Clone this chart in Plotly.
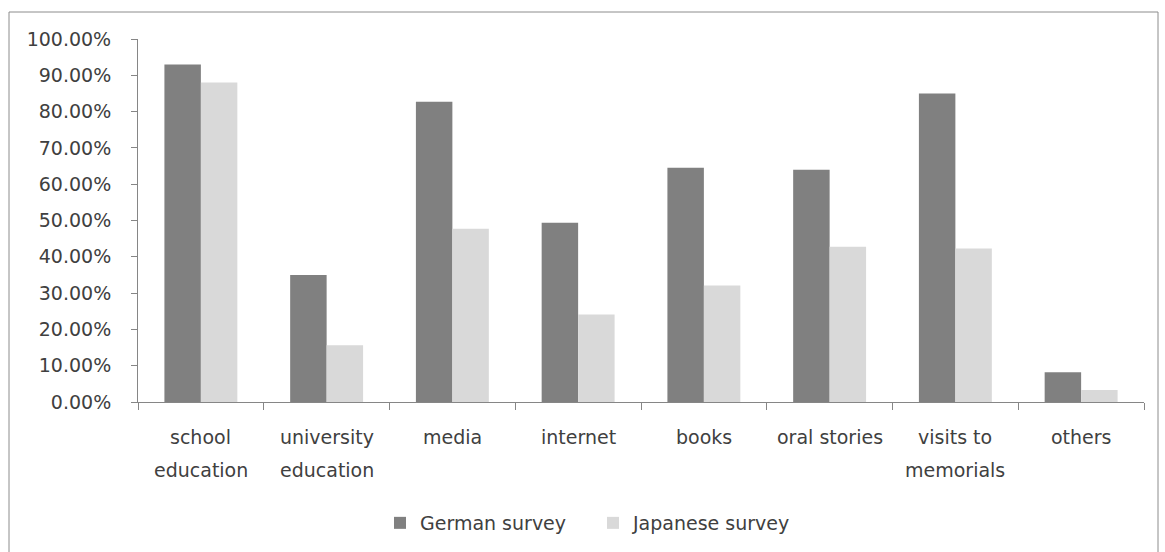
import plotly.graph_objects as go

# Sources of historical knowledge, share of respondents
categories = ["school education", "university education", "media", "internet",
              "books", "oral stories", "visits to memorials", "others"]
label_lines = [["school", "education"], ["university", "education"], ["media"],
               ["internet"], ["books"], ["oral stories"], ["visits to", "memorials"],
               ["others"]]
german = [0.93, 0.35, 0.827, 0.494, 0.645, 0.64, 0.85, 0.082]
japanese = [0.88, 0.156, 0.477, 0.241, 0.321, 0.428, 0.423, 0.033]
y_ticks = [i / 10 for i in range(11)]

FONT = "DejaVu Sans"
TEXT = "#404040"
AXIS = "#868686"
FS = 19

fig = go.Figure()
fig.add_trace(go.Bar(x=categories, y=german, name="German survey",
                     marker=dict(color="#808080", line=dict(width=0))))
fig.add_trace(go.Bar(x=categories, y=japanese, name="Japanese survey",
                     marker=dict(color="#d9d9d9", line=dict(width=0))))

# two-line category labels drawn under the axis
annotations = []
for cat, lines in zip(categories, label_lines):
    for j, line in enumerate(lines):
        annotations.append(dict(x=cat, xref="x", y=0, yref="paper",
                                yanchor="middle", xanchor="center",
                                yshift=-35 - 33 * j, text=line, showarrow=False,
                                font=dict(family=FONT, size=FS, color=TEXT)))

L, R, T, B = 138, 21, 39, 150
W, H = 1165, 552
pw, ph = W - L - R, H - T - B

fig.update_layout(
    width=W, height=H,
    margin=dict(l=L, r=R, t=T, b=B),
    paper_bgcolor="white", plot_bgcolor="white",
    barmode="group", bargap=0.42, bargroupgap=0,
    font=dict(family=FONT, size=FS, color=TEXT),
    showlegend=True,
    legend=dict(orientation="h", xref="container", yref="container",
                x=(400 - 20) / W, xanchor="left", y=1 - 523 / H, yanchor="middle",
                entrywidth=168, entrywidthmode="pixels",
                font=dict(family=FONT, size=FS, color=TEXT),
                itemclick=False, traceorder="normal"),
    annotations=annotations,
    shapes=[dict(type="rect", xref="paper", yref="paper",
                 x0=(9 - L) / pw, x1=(1158 - L) / pw,
                 y0=(H - B - 570) / ph, y1=(H - B - 12) / ph,
                 line=dict(color="#8c8c8c", width=1), fillcolor="rgba(0,0,0,0)",
                 layer="below")],
)

fig.update_yaxes(range=[0, 1], tickvals=y_ticks, tickformat=".2%",
                 showgrid=False, zeroline=False,
                 showline=True, linecolor=AXIS, linewidth=1,
                 ticks="outside", ticklen=6, tickcolor=AXIS,
                 ticklabelstandoff=16,
                 tickfont=dict(family=FONT, size=FS, color=TEXT))
fig.update_xaxes(showticklabels=False, showgrid=False,
                 showline=True, linecolor=AXIS, linewidth=1,
                 ticks="outside", ticklen=7, tickcolor=AXIS,
                 tickson="boundaries")

fig.write_html("out.html")
